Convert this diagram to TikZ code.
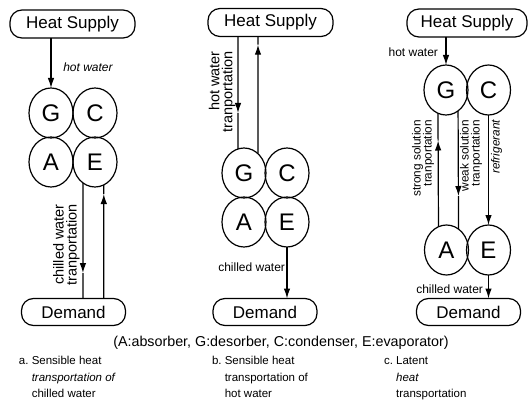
\documentclass[tikz,border=0pt]{standalone}
\usepackage{fontspec}
\setmainfont{Liberation Sans}
\usetikzlibrary{shapes.geometric,arrows.meta,calc}
\begin{document}
\begin{tikzpicture}[x=1pt,y=-1pt,
  every node/.style={inner sep=0pt, outer sep=0pt},
  lw/.style={line width=1.2pt},
  supbox/.style={draw, lw, rounded corners=12pt, minimum width=125pt, minimum height=28pt, font=\fontsize{17}{17}\selectfont},
  dembox/.style={draw, lw, rounded corners=12pt, minimum width=104pt, minimum height=27pt, font=\fontsize{17}{17}\selectfont},
  unit/.style={draw, lw, ellipse, minimum width=44pt, minimum height=50pt, font=\fontsize{24}{24}\selectfont},
  tip/.style={-{Latex[length=10pt,width=6.5pt]}},
  lbl/.style={font=\fontsize{12}{12}\selectfont},
  ilbl/.style={font=\fontsize{12}{12}\selectfont\itshape},
  rotlbl/.style={rotate=90, font=\fontsize{14.5}{13}\selectfont},
  crotlbl/.style={rotate=90, font=\fontsize{11.8}{11}\selectfont},
  capt/.style={font=\fontsize{11.5}{16.5}\selectfont, anchor=north west},
]
\useasboundingbox (0,0) rectangle (528,412);

% ---------- panel a ----------
\node[supbox] (HSa) at (72.5,24) {Heat Supply};
\node[unit] (Ga) at (51,113) {G};
\node[unit] (Ca) at (95,113) {C};
\node[unit] (Aa) at (51,162) {A};
\node[unit] (Ea) at (95,162) {E};
\node[dembox] (Da) at (73.5,312) {Demand};
\draw[lw,tip] (HSa.south -| Ga.north) -- (Ga.north);
\node[ilbl] (hwa) at (88,67) {hot water};
\coordinate (ma1) at ($(Ea.240)!0.78!(Ea.240 |- Da.north)$);
\draw[lw,tip] (Ea.240) -- (ma1);
\draw[lw] (ma1) -- (Ea.240 |- Da.north);
\coordinate (ma2) at ($(Ea.291.5 |- Da.north)!0.92!(Ea.291.5)$);
\draw[lw,tip] (Ea.291.5 |- Da.north) -- (ma2);
\draw[lw] (ma2) -- (Ea.291.5);
\node[rotlbl, align=right] (cwa) at (66.5,245) {chilled water\\tranportation};

% ---------- panel b ----------
\node[supbox] (HSb) at (270.5,22.5) {Heat Supply};
\node[unit] (Gb) at (244,173) {G};
\node[unit] (Cb) at (287,173) {C};
\node[unit] (Ab) at (244,222) {A};
\node[unit] (Eb) at (287,222) {E};
\node[dembox] (Db) at (265,312) {Demand};
\coordinate (mb1) at ($(Gb.104 |- HSb.south)!0.68!(Gb.104)$);
\draw[lw,tip] (Gb.104 |- HSb.south) -- (mb1);
\draw[lw] (mb1) -- (Gb.104);
\coordinate (mb2) at ($(Gb.54)!0.93!(Gb.54 |- HSb.south)$);
\draw[lw,tip] (Gb.54) -- (mb2);
\draw[lw] (mb2) -- (Gb.54 |- HSb.south);
\node[rotlbl, align=right] (hwb) at (222,92) {hot water\\tranportation};
\draw[lw,tip] (Eb.south) -- (Eb.south |- Db.north);
\node[lbl, anchor=east] (cwb) at (285,267) {chilled water};

% ---------- panel c ----------
\node[supbox, minimum width=120pt] (HSc) at (467,23) {Heat Supply};
\node[unit] (Gc) at (446,90) {G};
\node[unit] (Cc) at (488.5,90) {C};
\node[unit] (Ac) at (446.5,250) {A};
\node[unit] (Ec) at (488.5,250) {E};
\node[dembox] (Dc) at (468.5,312) {Demand};
\draw[lw,tip] (HSc.south -| Gc.north) -- (Gc.north);
\node[lbl, anchor=east] (hwc) at (438,52) {hot water};
\coordinate (mc1) at ($(Ac.109)!0.76!(Gc.251)$);
\draw[lw,tip] (Ac.109) -- (mc1);
\draw[lw] (mc1) -- (Gc.251);
\coordinate (mc2) at ($(Gc.300)!0.72!(Ac.60)$);
\draw[lw,tip] (Gc.300) -- (mc2);
\draw[lw] (mc2) -- (Ac.60);
\draw[lw,tip] (Cc.south) -- (Ec.north);
\node[crotlbl, align=right, anchor=south east] (ssc) at (434,120) {strong solution\\tranportation};
\node[crotlbl, align=right, anchor=north east] (wsc) at (460,120) {weak solution\\tranportation};
\node[crotlbl, anchor=north east, font=\fontsize{11.8}{11}\selectfont\itshape] (rfc) at (491,120) {refrigerant};
\draw[lw,tip] (Ec.south) -- (Ec.south |- Dc.north);
\node[lbl, anchor=east] (cwc) at (483,289) {chilled water};

% ---------- captions ----------
\node[font=\fontsize{14.3}{14}\selectfont] (key) at (281,343) {(A:absorber, G:desorber, C:condenser, E:evaporator)};
\node[capt] (capa) at (19,353) {\begin{tabular}{@{}l@{\ }l@{}}a. & Sensible heat\\ & \textit{transportation of}\\ & chilled water\end{tabular}};
\node[capt] (capb) at (212,353) {\begin{tabular}{@{}l@{\ }l@{}}b. & Sensible heat\\ & transportation of\\ & hot water\end{tabular}};
\node[capt] (capc) at (384,353) {\begin{tabular}{@{}l@{\ }l@{}}c. & Latent\\ & \textit{heat}\\ & transportation\end{tabular}};
\end{tikzpicture}
\end{document}
